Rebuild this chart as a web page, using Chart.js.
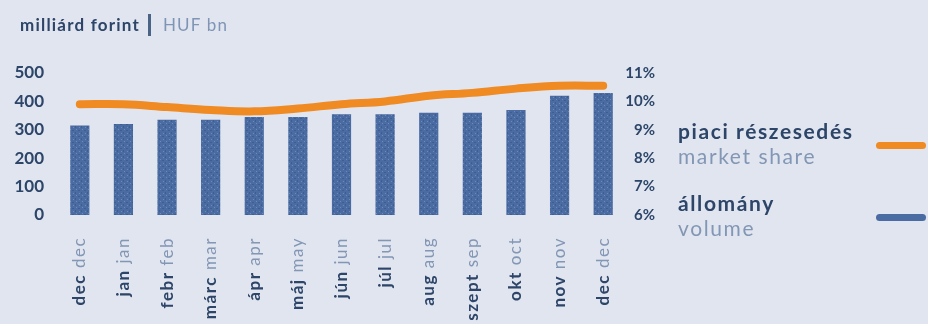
<!DOCTYPE html>
<html>
<head>
<meta charset="utf-8">
<script src="https://cdn.jsdelivr.net/npm/chart.js@4/dist/chart.umd.min.js"></script>
<style>
  html, body { margin: 0; padding: 0; background: #e1e5ef; }
  #wrap { position: relative; width: 928px; height: 324px; font-family: Lato, "Open Sans", sans-serif; }
  #chart { position: absolute; left: 0; top: 0; }
  .unit { position: absolute; left: 20px; top: 14px; font-size: 17px; letter-spacing: 1.2px; white-space: nowrap; }
  .unit b { color: #2c4568; }
  .unit .sep { display: inline-block; width: 3px; height: 22px; background: #4a6488; vertical-align: -5px; margin: 0 12px 0 8px; }
  .unit span.en { color: #7f95b6; }
  .leg { position: absolute; left: 678px; font-size: 21px; letter-spacing: 1.6px; line-height: 25px; white-space: nowrap; }
  .leg b { color: #2c4568; display: block; }
  .leg span { color: #8296b5; display: block; }
  .sw { position: absolute; left: 876px; width: 50px; height: 7px; border-radius: 4px; }
</style>
</head>
<body>
<div id="wrap">
  <canvas id="chart" width="928" height="324"></canvas>
  <div class="unit"><b>milliárd forint</b><i class="sep"></i><span class="en">HUF bn</span></div>
  <div class="leg" style="top:118px"><b>piaci részesedés</b><span>market share</span></div>
  <div class="sw" style="top:142px;background:#f08a22"></div>
  <div class="leg" style="top:190px"><b>állomány</b><span>volume</span></div>
  <div class="sw" style="top:214px;background:#4b6ca3"></div>
</div>
<script>
const monthsHu = ['dec', 'jan', 'febr', 'márc', 'ápr', 'máj', 'jún', 'júl', 'aug', 'szept', 'okt', 'nov', 'dec'];
const monthsEn = ['dec', 'jan', 'feb', 'mar', 'apr', 'may', 'jun', 'jul', 'aug', 'sep', 'oct', 'nov', 'dec'];
// állomány, milliárd forint
const volume = [315, 320, 335, 335, 345, 345, 355, 355, 360, 360, 370, 420, 430];
// piaci részesedés, %
const marketShare = [9.9, 9.9, 9.8, 9.7, 9.65, 9.75, 9.9, 10.0, 10.2, 10.3, 10.45, 10.55, 10.55];

const navy = '#2c4568';
const light = '#8296b5';
const barBlue = '#4b6ca3';
const orange = '#f08a22';

// crayon-like fill for the bars
function barTexture() {
    const c = document.createElement('canvas');
    c.width = 6; c.height = 6;
    const g = c.getContext('2d');
    g.fillStyle = barBlue;
    g.fillRect(0, 0, 6, 6);
    g.fillStyle = 'rgba(150,175,215,0.45)';
    g.fillRect(1, 1, 1, 1);
    g.fillRect(4, 3, 1, 1);
    g.fillStyle = 'rgba(50,80,130,0.5)';
    g.fillRect(3, 0, 1, 2);
    g.fillRect(0, 4, 2, 1);
    return g.createPattern(c, 'repeat');
}

// two-colour month labels, written bottom-to-top under each bar
const monthLabels = {
    id: 'monthLabels',
    afterDraw(chart) {
        const ctx = chart.ctx;
        const xs = chart.scales.x;
        const top = chart.chartArea.bottom + 22;
        ctx.save();
        monthsHu.forEach(function (hu, i) {
            const x = xs.getPixelForValue(i);
            ctx.save();
            ctx.translate(x, top);
            ctx.rotate(-Math.PI / 2);
            ctx.textAlign = 'right';
            ctx.textBaseline = 'middle';
            ctx.letterSpacing = '1.5px';
            ctx.font = '17px Lato';
            ctx.fillStyle = light;
            const en = ' ' + monthsEn[i];
            ctx.fillText(en, 0, 0);
            const w = ctx.measureText(en).width;
            ctx.font = 'bold 17px Lato';
            ctx.fillStyle = navy;
            ctx.fillText(hu, -w, 0);
            ctx.restore();
        });
        ctx.restore();
    }
};

new Chart(document.getElementById('chart'), {
    data: {
        labels: monthsHu,
        datasets: [{
            type: 'line',
            label: 'piaci részesedés',
            data: marketShare,
            yAxisID: 'y1',
            borderColor: orange,
            borderWidth: 8,
            borderCapStyle: 'round',
            pointRadius: 0,
            tension: 0.4,
            order: 0
        }, {
            type: 'bar',
            label: 'állomány',
            data: volume,
            yAxisID: 'y',
            backgroundColor: barTexture(),
            barPercentage: 0.44,
            categoryPercentage: 1,
            order: 1
        }]
    },
    options: {
        responsive: false,
        animation: false,
        layout: { padding: { top: 73, right: 273, left: 0, bottom: 0 } },
        plugins: { legend: { display: false }, tooltip: { enabled: false } },
        scales: {
            x: {
                grid: { display: false },
                border: { display: false },
                ticks: { display: false },
                afterFit: function (s) { s.height = 109; }
            },
            y: {
                position: 'left',
                min: 0, max: 500,
                grid: { display: false },
                border: { display: false },
                ticks: { stepSize: 100, padding: 6, color: navy, font: { family: 'Lato', size: 17, weight: 'bold' } },
                afterFit: function (s) { s.width = 58; }
            },
            y1: {
                position: 'right',
                min: 6, max: 11,
                grid: { display: false },
                border: { display: false },
                ticks: {
                    stepSize: 1, padding: 0, crossAlign: 'far', color: navy,
                    font: { family: 'Lato', size: 15, weight: 'bold' },
                    callback: function (v) { return v + '%'; }
                },
                afterFit: function (s) { s.width = 30; }
            }
        }
    },
    plugins: [monthLabels]
});
</script>
</body>
</html>
